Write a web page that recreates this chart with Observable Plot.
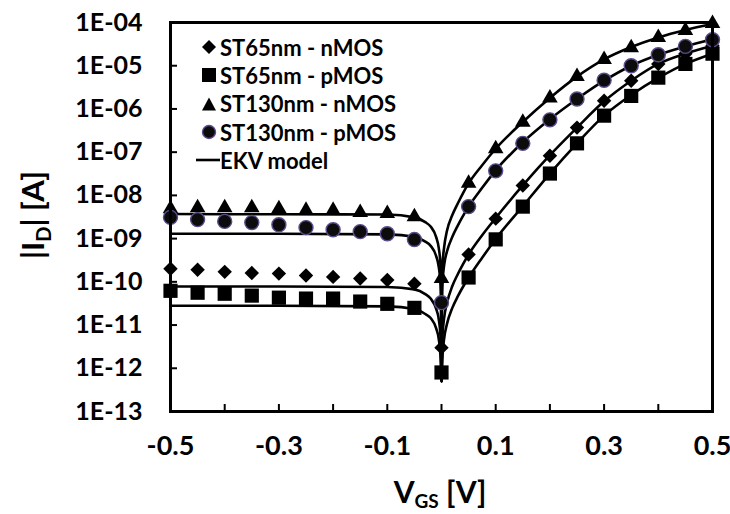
<!DOCTYPE html>
<html>
<head>
<meta charset="utf-8">
<script src="https://cdn.jsdelivr.net/npm/d3@7"></script>
<script src="https://cdn.jsdelivr.net/npm/@observablehq/plot@0.6"></script>
<style>
  html, body { margin: 0; padding: 0; background: #fff; }
  #wrap { position: relative; width: 730px; height: 514px; font-family: Lato, "Open Sans", sans-serif; }
  #legend { position: absolute; left: 196px; top: 33px; font-weight: bold; font-size: 22px; color: #000; }
  #legend .row { display: flex; align-items: center; height: 28.3px; white-space: nowrap; }
  #legend svg { display: block; }
</style>
</head>
<body>
<div id="wrap"><div id="chart"></div><div id="legend"></div></div>
<script>
// ---- data ----
const vgs = [-0.5, -0.45, -0.4, -0.35, -0.3, -0.25, -0.2, -0.15, -0.1, -0.05, 0,
             0.05, 0.1, 0.15, 0.2, 0.25, 0.3, 0.35, 0.4, 0.45, 0.5];
const st65n  = [2.0e-10, 1.9e-10, 1.7e-10, 1.6e-10, 1.55e-10, 1.4e-10, 1.3e-10, 1.2e-10, 1.1e-10, 9e-11, 3e-12,
                4.3e-10, 2.9e-9, 1.7e-8, 8.3e-8, 3.7e-7, 1.55e-6, 4.5e-6, 1.1e-5, 1.9e-5, 2.9e-5];
const st65p  = [6.2e-11, 5.6e-11, 5.3e-11, 4.8e-11, 4.3e-11, 4.1e-11, 4.1e-11, 3.5e-11, 3.1e-11, 2.5e-11, 8e-13,
                1.26e-10, 9.6e-10, 5.5e-9, 3.2e-8, 1.6e-7, 7.0e-7, 2.0e-6, 5.3e-6, 1.1e-5, 1.9e-5];
const st130n = [4.9e-9, 5.2e-9, 5.2e-9, 5.2e-9, 4.9e-9, 4.5e-9, 4.5e-9, 4.0e-9, 3.8e-9, 3.2e-9, 1.2e-10,
                1.9e-8, 1.2e-7, 4.9e-7, 1.8e-6, 5.6e-6, 1.4e-5, 2.6e-5, 4.5e-5, 6.5e-5, 9.5e-5];
const st130p = [3.1e-9, 2.75e-9, 2.5e-9, 2.35e-9, 2.1e-9, 1.8e-9, 1.6e-9, 1.45e-9, 1.3e-9, 9.5e-10, 3.3e-11,
                5.5e-9, 3.7e-8, 1.6e-7, 5.6e-7, 1.7e-6, 4.6e-6, 1.0e-5, 1.8e-5, 2.8e-5, 4.0e-5];

// EKV model curves
const modelV = [-0.5, -0.3, -0.1, -0.05, -0.03, -0.02, -0.01, -0.005, -0.002, -0.001, 0,
                0.001, 0.002, 0.005, 0.01, 0.02, 0.03, 0.04, 0.05, 0.075, 0.1, 0.15, 0.2, 0.25, 0.3, 0.35, 0.4, 0.45, 0.5];
const ekv130n = [3.7e-9, 3.65e-9, 3.6e-9, 3.1e-9, 2.4e-9, 1.9e-9, 1.1e-9, 6e-10, 2.6e-10, 1.3e-10, 5e-13,
                 1.2e-10, 2.5e-10, 6.5e-10, 1.5e-9, 3.5e-9, 6.5e-9, 1.15e-8, 1.9e-8, 5e-8, 1.2e-7, 5e-7, 1.8e-6, 5.6e-6, 1.4e-5, 2.7e-5, 4.5e-5, 6.7e-5, 9.2e-5];
const ekv130p = [1.3e-9, 1.3e-9, 1.25e-9, 1.1e-9, 8.5e-10, 6.8e-10, 4e-10, 2.2e-10, 9.5e-11, 4.8e-11, 5e-13,
                 5e-11, 1e-10, 2.5e-10, 5e-10, 1.1e-9, 2e-9, 3.4e-9, 5.5e-9, 1.5e-8, 3.8e-8, 1.7e-7, 5.8e-7, 1.7e-6, 4.5e-6, 1.0e-5, 1.8e-5, 2.8e-5, 4.1e-5];
const ekv65n = [7.8e-11, 7.8e-11, 7.6e-11, 6.7e-11, 5.2e-11, 4.1e-11, 2.4e-11, 1.35e-11, 5.8e-12, 3e-12, 5e-13,
                3e-12, 6e-12, 1.5e-11, 3.2e-11, 8e-11, 1.5e-10, 2.6e-10, 4.3e-10, 1.2e-9, 3e-9, 1.7e-8, 8.5e-8, 3.7e-7, 1.5e-6, 4.5e-6, 1.1e-5, 1.9e-5, 2.9e-5];
const ekv65p = [2.8e-11, 2.8e-11, 2.7e-11, 2.35e-11, 1.8e-11, 1.45e-11, 8.5e-12, 4.7e-12, 2e-12, 1e-12, 5e-13,
                1e-12, 2e-12, 5e-12, 1.05e-11, 2.5e-11, 4.6e-11, 7.8e-11, 1.25e-10, 3.6e-10, 9.8e-10, 5.6e-9, 3.2e-8, 1.6e-7, 7e-7, 2.1e-6, 5.2e-6, 1.1e-5, 1.9e-5];

const seriesNames = ["ST65nm - nMOS", "ST65nm - pMOS", "ST130nm - nMOS", "ST130nm - pMOS", "EKV model"];
const xTicks = [-0.5, -0.4, -0.3, -0.2, -0.1, 0, 0.1, 0.2, 0.3, 0.4, 0.5];
const xTickLabels = {"-0.5": "-0.5", "-0.3": "-0.3", "-0.1": "-0.1", "0.1": "0.1", "0.3": "0.3", "0.5": "0.5"};
const yTicks = [1e-13, 1e-12, 1e-11, 1e-10, 1e-9, 1e-8, 1e-7, 1e-6, 1e-5, 1e-4];
const yTickLabels = ["1E-13", "1E-12", "1E-11", "1E-10", "1E-09", "1E-08", "1E-07", "1E-06", "1E-05", "1E-04"];

// ---- build tables ----
const pts = (arr) => vgs.map((v, i) => ({v, i: arr[i]}));
const model = [
  ["130n", ekv130n], ["130p", ekv130p], ["65n", ekv65n], ["65p", ekv65p]
].flatMap(([s, arr]) => modelV.map((v, k) => ({s, v, i: arr[k]})));

const xLabelTicks = xTicks.filter(t => xTickLabels[String(t)] !== undefined);

const chart = Plot.plot({
  width: 730,
  height: 514,
  marginLeft: 170,
  marginRight: 18,
  marginTop: 22,
  marginBottom: 103,
  style: {fontFamily: "Lato, 'Open Sans', sans-serif", fontWeight: "bold", color: "#000", background: "#fff"},
  x: {domain: [-0.5, 0.5]},
  y: {type: "log", domain: [1e-13, 1e-4]},
  marks: [
    Plot.line(model, {x: "v", y: "i", z: "s", curve: "monotone-x", stroke: "#000", strokeWidth: 2.6}),
    Plot.dot(pts(st65n), {x: "v", y: "i", symbol: "diamond2", r: 6.5, fill: "#000"}),
    Plot.dot(pts(st65p), {x: "v", y: "i", symbol: "square", r: 8, fill: "#000"}),
    Plot.dot(pts(st130n), {x: "v", y: "i", symbol: "triangle", r: 5.8, fill: "#000"}),
    Plot.dot(pts(st130p), {x: "v", y: "i", symbol: "circle", r: 7, fill: "#0c0c0c", stroke: "#5b4b8a", strokeWidth: 1.4}),
    Plot.axisX({ticks: xTicks, tickSize: 7, dy: -7, strokeWidth: 2, tickFormat: () => "", label: null}),
    Plot.axisX({ticks: xLabelTicks, tickSize: 0, tickPadding: 24, fontSize: 27, fontWeight: "bold",
                tickFormat: d => xTickLabels[String(d)], label: null}),
    Plot.axisY({ticks: yTicks, tickSize: 7, dx: 7, strokeWidth: 2, tickFormat: () => "", label: null}),
    Plot.axisY({ticks: yTicks, tickSize: 0, tickPadding: 28, fontSize: 25, fontWeight: "bold",
                tickFormat: d => yTickLabels[yTicks.indexOf(d)], label: null}),
    Plot.frame({stroke: "#000", strokeWidth: 3})
  ]
});
document.getElementById("chart").appendChild(chart);

// axis titles with subscripts
const svg = d3.select(chart);
const xt = svg.append("text")
  .attr("x", 440).attr("y", 503)
  .attr("text-anchor", "middle")
  .attr("font-size", 30).attr("font-weight", "bold").attr("fill", "#000");
xt.append("tspan").text("V");
xt.append("tspan").attr("font-size", 19).attr("dy", 5).text("GS");
xt.append("tspan").attr("dy", -5).text(" [V]");

const yt = svg.append("text")
  .attr("transform", "translate(44,215) rotate(-90)")
  .attr("text-anchor", "middle")
  .attr("font-size", 31).attr("font-weight", "bold").attr("fill", "#000");
yt.append("tspan").text("|I");
yt.append("tspan").attr("font-size", 20).attr("dy", 7).text("D");
yt.append("tspan").attr("dy", -7).text("| [A]");

// legend
const legendSym = [
  '<path d="M8 1 L15 8 L8 15 L1 8 Z" fill="#000"/>',
  '<rect x="1" y="1" width="14" height="14" fill="#000"/>',
  '<path d="M8 1.5 L15 14.5 L1 14.5 Z" fill="#000"/>',
  '<circle cx="8" cy="8" r="6.5" fill="#0c0c0c" stroke="#5b4b8a" stroke-width="1.4"/>',
  '<line x1="0" y1="8" x2="24" y2="8" stroke="#000" stroke-width="2.6"/>'
];
const leg = document.getElementById("legend");
seriesNames.forEach((name, k) => {
  const row = document.createElement("div");
  row.className = "row";
  const w = k === 4 ? 24 : 16;
  row.innerHTML = `<svg width="${w}" height="16" style="margin-left:${k === 4 ? 0 : 5}px;margin-right:${k === 4 ? 0 : 3}px">${legendSym[k]}</svg><span>${name}</span>`;
  leg.appendChild(row);
});
</script>
</body>
</html>
